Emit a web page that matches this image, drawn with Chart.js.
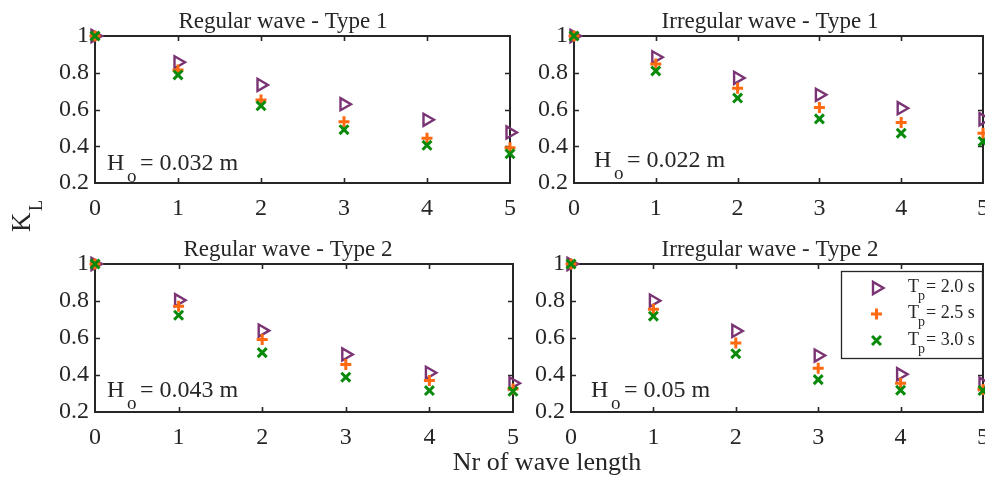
<!DOCTYPE html>
<html>
<head>
<meta charset="utf-8">
<title>Wave transmission coefficient</title>
<script src="https://cdn.jsdelivr.net/npm/chart.js@4.4.1/dist/chart.umd.min.js"></script>
<style>
  html, body { margin: 0; padding: 0; background: #ffffff; overflow: hidden; }
  #fig { position: relative; width: 985px; height: 478px; overflow: hidden; background: #ffffff; }
  #fig canvas { position: absolute; left: 0; top: 0; }
</style>
</head>
<body>
<div id="fig"></div>
<script>
// ---- data -------------------------------------------------------------
const waveLengths = [0, 1, 2, 3, 4, 5];          // x: number of wave lengths
const yTicks = [0.2, 0.4, 0.6, 0.8, 1];          // K_L tick values
const periods = ['2.0', '2.5', '3.0'];           // peak periods Tp (s)
const panelTitles = ['Regular wave - Type 1', 'Irregular wave - Type 1',
                     'Regular wave - Type 2', 'Irregular wave - Type 2'];
const waveHeights = ['0.032', '0.022', '0.043', '0.05'];   // Ho (m)

// K_L values, one array per panel and period
const regularT1_Tp20   = [1, 0.857, 0.734, 0.629, 0.544, 0.475];
const regularT1_Tp25   = [1, 0.815, 0.652, 0.533, 0.444, 0.392];
const regularT1_Tp30   = [1, 0.788, 0.620, 0.490, 0.405, 0.359];

const irregularT1_Tp20 = [1, 0.884, 0.772, 0.680, 0.607, 0.547];
const irregularT1_Tp25 = [1, 0.848, 0.716, 0.611, 0.529, 0.471];
const irregularT1_Tp30 = [1, 0.810, 0.662, 0.549, 0.471, 0.426];

const regularT2_Tp20   = [1, 0.804, 0.640, 0.511, 0.412, 0.355];
const regularT2_Tp25   = [1, 0.772, 0.592, 0.457, 0.370, 0.325];
const regularT2_Tp30   = [1, 0.723, 0.521, 0.388, 0.316, 0.312];

const irregularT2_Tp20 = [1, 0.802, 0.638, 0.505, 0.404, 0.353];
const irregularT2_Tp25 = [1, 0.756, 0.573, 0.436, 0.355, 0.322];
const irregularT2_Tp30 = [1, 0.718, 0.515, 0.375, 0.318, 0.316];

const panelSeries = [
  [regularT1_Tp20, regularT1_Tp25, regularT1_Tp30],
  [irregularT1_Tp20, irregularT1_Tp25, irregularT1_Tp30],
  [regularT2_Tp20, regularT2_Tp25, regularT2_Tp30],
  [irregularT2_Tp20, irregularT2_Tp25, irregularT2_Tp30]
];

// ---- layout & style ---------------------------------------------------
const FIG_W = 1000, FIG_H = 478;
const AXIS_W = 60, AXIS_H = 40;
const SERIF = "'Liberation Serif', 'Times New Roman', serif";
const INK = '#262626';

// plot rectangles in figure pixels
const panelAreas = [
  { l: 95,  t: 36,  r: 510, b: 183 },
  { l: 574, t: 36,  r: 986, b: 183 },
  { l: 95,  t: 264, r: 513, b: 412 },
  { l: 571, t: 264, r: 986, b: 412 }
];
const titlePos = [ { x: 283, y: 28 }, { x: 770, y: 28 }, { x: 288, y: 256 }, { x: 770, y: 256 } ];
const notePos  = [ { x: 107, y: 170 }, { x: 594, y: 167 }, { x: 107, y: 397 }, { x: 591, y: 397 } ];

const markerStyles = [
  { pointStyle: 'triangle', rotation: 90, radius: 7,   borderWidth: 2.4, color: '#7A3474', fill: 'rgba(0,0,0,0)' },
  { pointStyle: 'cross',    rotation: 0,  radius: 5.5, borderWidth: 3,   color: '#FF6A10', fill: 'rgba(0,0,0,0)' },
  { pointStyle: 'crossRot', rotation: 0,  radius: 6.3, borderWidth: 3,   color: '#0A8A0A', fill: 'rgba(0,0,0,0)' }
];

// text with a subscript part
function subText(ctx, base, sub, rest, x, y, size, subSize, subDx, subDy, restDx) {
  ctx.font = size + 'px ' + SERIF;
  ctx.fillText(base, x, y);
  ctx.font = subSize + 'px ' + SERIF;
  ctx.fillText(sub, x + subDx, y + subDy);
  if (rest) {
    ctx.font = size + 'px ' + SERIF;
    ctx.fillText(rest, x + restDx, y);
  }
}

const panelDecor = {
  id: 'panelDecor',
  beforeDatasetsDraw(chart, args, opts) {
    const ctx = chart.ctx;
    const { left, top, right, bottom } = chart.chartArea;
    const xs = chart.scales.x, ys = chart.scales.y;
    ctx.save();
    ctx.strokeStyle = INK;
    ctx.lineWidth = 2;
    ctx.strokeRect(left, top, right - left, bottom - top);
    ctx.lineWidth = 1.6;
    ctx.beginPath();
    waveLengths.forEach(v => {
      if (v === xs.min || v === xs.max) return;
      const px = Math.round(xs.getPixelForValue(v)) + 0.5;
      ctx.moveTo(px, bottom); ctx.lineTo(px, bottom - 5);
      ctx.moveTo(px, top);    ctx.lineTo(px, top + 5);
    });
    yTicks.forEach(v => {
      if (v === ys.min || v === ys.max) return;
      const py = Math.round(ys.getPixelForValue(v)) + 0.5;
      ctx.moveTo(left, py);  ctx.lineTo(left + 5, py);
      ctx.moveTo(right, py); ctx.lineTo(right - 5, py);
    });
    ctx.stroke();
    ctx.restore();
  },
  afterDatasetsDraw(chart, args, opts) {
    const ctx = chart.ctx;
    const i = opts.index;
    ctx.save();
    ctx.fillStyle = INK;
    ctx.textBaseline = 'alphabetic';

    // panel title
    ctx.textAlign = 'center';
    ctx.font = '23px ' + SERIF;
    ctx.fillText(panelTitles[i], titlePos[i].x, titlePos[i].y);

    // incident wave height note
    ctx.textAlign = 'left';
    const n = notePos[i];
    subText(ctx, 'H', 'o', '= ' + waveHeights[i] + ' m', n.x, n.y, 24, 19, 20, 12, 33);

    // legend in the last panel
    if (opts.legend) {
      ctx.fillStyle = '#ffffff';
      ctx.fillRect(841.5, 271.5, 141, 87);
      ctx.strokeStyle = INK;
      ctx.lineWidth = 1.3;
      ctx.strokeRect(841.5, 271.5, 141, 87);
      const rows = [288, 314, 340.5];
      chart.data.datasets.forEach((ds, k) => {
        const m = markerStyles[k];
        ctx.save();
        ctx.strokeStyle = m.color;
        ctx.fillStyle = m.fill;
        ctx.lineWidth = m.borderWidth;
        Chart.helpers.drawPoint(ctx, { pointStyle: m.pointStyle, rotation: m.rotation, radius: m.radius, borderWidth: m.borderWidth }, 876.5, rows[k]);
        ctx.restore();
        ctx.fillStyle = INK;
        subText(ctx, 'T', 'p', '= ' + periods[k] + ' s', 908, rows[k] + 4, 18, 14, 10, 8, 18);
      });
    }

    // shared axis labels, drawn once
    if (opts.shared) {
      ctx.fillStyle = INK;
      ctx.textAlign = 'center';
      ctx.font = '26px ' + SERIF;
      ctx.fillText('Nr of wave length', 547, 470);

      ctx.save();
      ctx.translate(30, 232);
      ctx.rotate(-Math.PI / 2);
      ctx.textAlign = 'left';
      ctx.font = '27px ' + SERIF;
      ctx.fillText('K', 0, 0);
      ctx.font = '18px ' + SERIF;
      ctx.fillText('L', 21, 12);
      ctx.restore();
    }
    ctx.restore();
  }
};

const fig = document.getElementById('fig');

panelSeries.forEach((series, i) => {
  const a = panelAreas[i];
  const canvas = document.createElement('canvas');
  canvas.width = FIG_W;
  canvas.height = FIG_H;
  canvas.style.width = FIG_W + 'px';
  canvas.style.height = FIG_H + 'px';
  fig.appendChild(canvas);

  const datasets = series.map((vals, k) => {
    const m = markerStyles[k];
    return {
      label: 'Tp = ' + periods[k] + ' s',
      data: waveLengths.map((x, j) => ({ x: x, y: vals[j] })),
      showLine: false,
      pointStyle: m.pointStyle,
      rotation: m.rotation,
      radius: m.radius,
      hoverRadius: m.radius,
      borderWidth: m.borderWidth,
      borderColor: m.color,
      backgroundColor: m.fill,
      clip: false,
      order: 3 - k
    };
  });

  new Chart(canvas, {
    type: 'scatter',
    data: { datasets },
    plugins: [panelDecor],
    options: {
      responsive: false,
      animation: false,
      events: [],
      devicePixelRatio: 1,
      layout: {
        padding: {
          left: a.l - AXIS_W,
          top: a.t,
          right: FIG_W - a.r,
          bottom: FIG_H - a.b - AXIS_H
        }
      },
      plugins: {
        legend: { display: false },
        title: { display: false },
        tooltip: { enabled: false },
        panelDecor: { index: i, legend: i === 3, shared: i === 0 }
      },
      scales: {
        x: {
          type: 'linear',
          min: 0, max: 5,
          afterFit(s) { s.height = AXIS_H; },
          afterBuildTicks(s) { s.ticks = waveLengths.map(v => ({ value: v })); },
          grid: { display: false, drawTicks: false },
          border: { display: false },
          ticks: {
            color: INK, padding: 11, maxRotation: 0, autoSkip: false,
            font: { family: SERIF, size: 24 },
            callback: v => String(v)
          }
        },
        y: {
          type: 'linear',
          min: 0.2, max: 1,
          afterFit(s) { s.width = AXIS_W; },
          afterBuildTicks(s) { s.ticks = yTicks.map(v => ({ value: v })); },
          grid: { display: false, drawTicks: false },
          border: { display: false },
          ticks: {
            color: INK, padding: 6, autoSkip: false,
            font: { family: SERIF, size: 24 },
            callback: v => String(v)
          }
        }
      }
    }
  });
});
</script>
</body>
</html>
